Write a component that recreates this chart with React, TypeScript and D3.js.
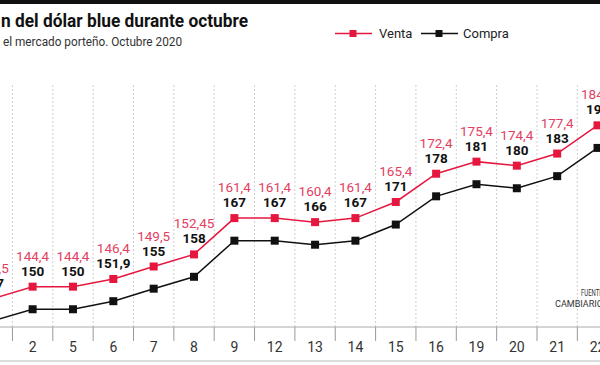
import { useEffect, useRef } from "react";
import * as d3 from "d3";

// dias de octubre 2020
const days = ["1", "2", "5", "6", "7", "8", "9", "12", "13", "14", "15", "16", "19", "20", "21", "22"];
// valores de la linea roja (venta) y negra (compra)
const venta = [147, 150, 150, 151.9, 155, 158, 167, 167, 166, 167, 171, 178, 181, 180, 183, 190];
const compra = [141.5, 144.4, 144.4, 146.4, 149.5, 152.45, 161.4, 161.4, 160.4, 161.4, 165.4, 172.4, 175.4, 174.4, 177.4, 184.4];

const legendItems = ["Venta", "Compra"];
const title = "n del dólar blue durante octubre";
const subtitle = "el mercado porteño. Octubre 2020";

const RED = "#e5173f";
const RED_TEXT = "#e3405f";

function App() {
  const ref = useRef<HTMLDivElement>(null);

  useEffect(() => {
    const width = 600;
    const height = 365;
    const axisY = 327;
    const fmt = (v: number) => String(v).replace(".", ",");

    ref.current!.innerHTML = "";

    const svg = d3
      .select(ref.current)
      .append("svg")
      .attr("width", width)
      .attr("height", height)
      .style("position", "absolute")
      .style("left", 0)
      .style("top", 0)
      .style("font-family", "Roboto, sans-serif");

    svg.append("rect").attr("width", width).attr("height", height).attr("fill", "#fff");

    const x = d3.scaleBand().domain(days).range([-27.9, -27.9 + days.length * 40.35]);
    const y = d3.scaleLinear().domain([140, 200]).range([axisY, 85]);
    const cx = (d: string) => x(d)! + x.bandwidth() / 2;

    // barra superior
    svg.append("rect").attr("width", width).attr("height", 4).attr("fill", "#111");

    svg
      .append("text")
      .attr("x", 1)
      .attr("y", 27)
      .attr("font-size", 19)
      .attr("font-weight", 700)
      .attr("fill", "#111")
      .attr("textLength", 247)
      .attr("lengthAdjust", "spacingAndGlyphs")
      .text(title);

    svg
      .append("text")
      .attr("x", 3)
      .attr("y", 46)
      .attr("font-size", 12.5)
      .attr("fill", "#333")
      .attr("textLength", 179)
      .attr("lengthAdjust", "spacingAndGlyphs")
      .text(subtitle);

    // leyenda
    const legend = [
      { x0: 335, color: RED, tx: 379 },
      { x0: 421, color: "#111", tx: 463 },
    ];
    legend.forEach((l, i) => {
      svg.append("line").attr("x1", l.x0).attr("x2", l.x0 + 37).attr("y1", 33.5).attr("y2", 33.5)
        .attr("stroke", l.color).attr("stroke-width", 1.5);
      svg.append("rect").attr("x", l.x0 + 14.5).attr("y", 30).attr("width", 7).attr("height", 7).attr("fill", l.color);
      svg.append("text").attr("x", l.tx).attr("y", 38).attr("font-size", 13).attr("fill", "#222").text(legendItems[i]);
    });

    // grilla punteada y ticks
    const bounds = days.slice(1).map((d) => x(d)!);
    svg.selectAll(".grid").data(bounds).enter().append("line")
      .attr("x1", (d) => d).attr("x2", (d) => d).attr("y1", 85).attr("y2", axisY)
      .attr("stroke", "#cfcfcf").attr("stroke-dasharray", "2,2");
    svg.selectAll(".tick").data(bounds).enter().append("line")
      .attr("x1", (d) => d).attr("x2", (d) => d).attr("y1", axisY).attr("y2", 341)
      .attr("stroke", "#999");

    svg.append("line").attr("x1", 0).attr("x2", width).attr("y1", axisY).attr("y2", axisY).attr("stroke", "#aaa");
    svg.append("line").attr("x1", 0).attr("x2", width).attr("y1", 361).attr("y2", 361).attr("stroke", "#bbb");

    svg.selectAll(".xlab").data(days).enter().append("text")
      .attr("x", (d) => cx(d)).attr("y", 352).attr("text-anchor", "middle")
      .attr("font-size", 14).attr("fill", "#333").text((d) => d);

    // fuente
    svg.append("text").attr("x", 581).attr("y", 296).attr("font-size", 9.5).attr("fill", "#333")
      .attr("textLength", 23).attr("lengthAdjust", "spacingAndGlyphs").text("FUENTE:");
    svg.append("text").attr("x", 555).attr("y", 307).attr("font-size", 9.5).attr("fill", "#333")
      .attr("textLength", 48).attr("lengthAdjust", "spacingAndGlyphs").text("CAMBIARIO");

    const series = [
      { values: compra, color: "#111" },
      { values: venta, color: RED },
    ];
    series.forEach((s) => {
      const line = d3.line<number>().x((_, i) => cx(days[i])).y((d) => y(d));
      svg.append("path").attr("d", line(s.values)).attr("fill", "none").attr("stroke", s.color).attr("stroke-width", 1.5);
      svg.selectAll(null).data(s.values).enter().append("rect")
        .attr("x", (_, i) => cx(days[i]) - 4).attr("y", (d) => y(d) - 4)
        .attr("width", 8).attr("height", 8).attr("fill", s.color);
    });

    // etiquetas: roja arriba, negra debajo
    svg.selectAll(".lr").data(compra).enter().append("text")
      .attr("x", (_, i) => cx(days[i])).attr("y", (_, i) => y(venta[i]) - 26)
      .attr("text-anchor", "middle").attr("font-size", 13.5).attr("fill", RED_TEXT)
      .text((d) => fmt(d));
    svg.selectAll(".lb").data(venta).enter().append("text")
      .attr("x", (_, i) => cx(days[i])).attr("y", (d) => y(d) - 11)
      .attr("text-anchor", "middle").attr("font-size", 13.5).attr("font-weight", 700).attr("fill", "#111")
      .text((d) => fmt(d));
  }, []);

  return <div ref={ref}></div>;
}

export default App;
